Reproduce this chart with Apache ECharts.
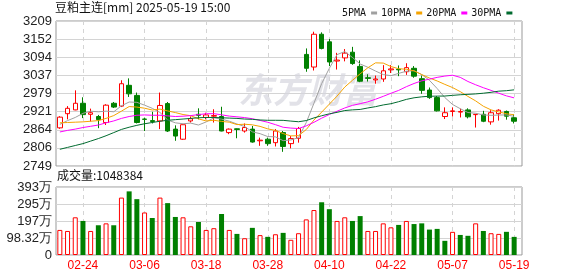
<!DOCTYPE html>
<html>
<head>
<meta charset="utf-8">
<script src="https://cdn.jsdelivr.net/npm/echarts@6/dist/echarts.min.js"></script>
<style>
html, body { margin: 0; padding: 0; background: #fff; }
#chart { width: 578px; height: 276px; }
</style>
</head>
<body>
<div id="chart"></div>
<script>
// trading days shown on the chart
const dates = ['02-19','02-20','02-21','02-24','02-25','02-26','02-27','02-28','03-03','03-04',
  '03-05','03-06','03-07','03-10','03-11','03-12','03-13','03-14','03-17','03-18',
  '03-19','03-20','03-21','03-24','03-25','03-26','03-27','03-28','03-31','04-01',
  '04-02','04-03','04-07','04-08','04-09','04-10','04-11','04-14','04-15','04-16',
  '04-17','04-18','04-21','04-22','04-23','04-24','04-25','04-28','04-29','04-30',
  '05-06','05-07','05-08','05-09','05-12','05-13','05-14','05-15','05-16','05-19'];

const open = [2870,2915,2927,2948,2913,2906,2887,2948,2939,3005,
  2973,2898,2893,2892,2947,2866,2834,2892,2913,2903,
  2907,2906,2855,2867,2860,2866,2829,2834,2823,2855,
  2820,2837,3103,3063,3167,3143,3082,3092,3110,3065,
  3029,3022,3025,3054,3056,3048,3059,3026,2990,2966,
  2906,2922,2920,2927,2912,2913,2889,2915,2922,2902];
const close = [2904,2932,2948,2912,2918,2896,2942,2936,3010,2978,
  2887,2897,2890,2941,2860,2844,2880,2899,2910,2911,
  2909,2860,2866,2865,2871,2825,2831,2820,2860,2811,
  2836,2868,3059,3167,3122,3079,3085,3107,3074,3018,
  3027,3025,3051,3057,3054,3061,3034,2989,2966,2924,
  2918,2924,2922,2905,2913,2891,2918,2926,2907,2891];
const low = [2867,2897,2926,2901,2890,2869,2879,2933,2936,2968,
  2884,2860,2884,2866,2857,2829,2832,2887,2897,2897,
  2887,2859,2850,2837,2855,2823,2813,2813,2811,2794,
  2805,2823,3048,3052,3119,3066,3055,3081,3070,3015,
  3017,3010,3016,3044,3034,3038,3029,2978,2962,2922,
  2898,2906,2903,2900,2871,2888,2880,2893,2896,2884];
const high = [2907,2939,2989,2967,2931,2911,2945,2952,3021,3027,
  2982,2902,2921,2982,2952,2878,2881,2906,2932,2918,
  2929,2937,2868,2868,2884,2876,2839,2839,2866,2860,
  2844,2873,3122,3175,3173,3152,3108,3120,3127,3084,
  3040,3036,3069,3069,3068,3075,3066,3036,2998,2971,
  2935,2935,2931,2932,2914,2924,2926,2929,2925,2913];

// volume, in 万 lots
const vol = [145,139,218,197,139,172,183,172,332,368,
  323,246,214,332,300,220,218,166,191,145,
  155,237,145,122,97,157,115,105,120,128,
  88,126,206,260,305,265,197,218,197,225,
  139,139,183,160,174,197,179,183,147,151,
  82,134,116,111,183,139,126,122,134,104.8384];
// volume bar direction as drawn: 1 = up (red), 0 = down (green)
const volUp = [1,1,1,0,1,0,1,0,1,0,
  0,1,0,1,0,0,1,1,0,1,
  1,0,1,0,1,0,1,0,1,0,
  1,1,1,1,0,0,1,1,0,0,
  1,1,1,1,0,1,0,0,0,0,
  0,1,0,0,1,0,1,1,0,0];

const ma5 = [2881,2893,2903,2916,2922.8,2921,2923,2921,2940,2952,
  2951,2942,2932,2919,2895,2886,2883,2885,2879,2888.8,
  2901.8,2897.8,2891.2,2882.2,2874.2,2857.4,2851.6,2842.4,2841.4,2829.4,
  2831.6,2839,2886.8,2948.2,3010.4,3059,3102.4,3112,3093.4,3072.6,
  3062.2,3050.2,3039,3035.6,3042.8,3049.6,3051.4,3039,3020.8,2994.8,
  2966.2,2944.2,2930.8,2918.6,2916.4,2911,2909.8,2910.6,2911,2906.6];
const ma10 = [2886,2887,2888,2889,2891,2893,2900,2909,2923,2937.6,
  2935.9,2932.4,2926.6,2929.5,2923.7,2918.5,2912.3,2908.6,2898.6,2891.9,
  2894.1,2890.4,2888,2880.4,2881.5,2879.6,2874.7,2866.8,2861.8,2851.8,
  2844.5,2845.3,2864.6,2894.8,2919.9,2945.3,2970.7,2999.4,3020.8,3041.5,
  3060.6,3076.3,3075.5,3064.5,3057.7,3055.9,3050.8,3039,3028.2,3018.8,
  3007.9,2997.8,2984.9,2969.7,2955.6,2938.6,2927,2920.7,2914.8,2911.5];
const ma20 = [2857,2862,2866,2871,2875,2879,2886,2892,2900,2906,
  2910,2911,2910,2910,2908,2906,2907,2909,2912,2914.8,
  2915,2911.4,2907.3,2905,2902.6,2899,2893.5,2887.7,2880.2,2871.9,
  2869.3,2867.9,2876.3,2887.6,2900.7,2912.5,2922.7,2933.1,2941.3,2946.7,
  2952.6,2960.8,2970,2979.7,2988.8,3000.6,3010.8,3019.2,3024.5,3030.2,
  3034.3,3037,3030.2,3017.1,3006.7,2997.3,2988.9,2979.9,2971.5,2965.2];
const ma30 = [2802,2808,2814,2820,2828,2836,2845,2855,2865,2872,
  2878,2883,2887,2891,2894,2896,2898,2900,2902,2903,
  2903,2902,2901,2900,2898,2897,2895,2894,2894,2893.8,
  2891.5,2889.4,2893.1,2901.6,2908.4,2914.5,2919.2,2924.9,2927.1,2928.4,
  2933.1,2937.3,2942.7,2946.6,2953,2960.3,2965.4,2968.4,2970.3,2970.7,
  2971,2973.1,2975,2976.3,2977.7,2979.9,2982.8,2986.4,2987.9,2990.6];

const priceTicks = ['2749','2806','2864','2921','2979','3037','3094','3152','3209'];
const volTicks = ['0','98.32万','197万','295万','393万'];
const maNames = ['5PMA','10PMA','20PMA','30PMA'];
const maData = [ma5, ma10, ma20, ma30];
const maColors = ['#a0a0a0','#f5a300','#ff00ff','#006b2f'];

const UP = '#ff0000';
const DOWN = '#008000';
const GRID_LINE = '#d4d4d4';
const FRAME = '#999';
const MARK = 'rgba(214,214,222,0.7)';
const showDay = (i) => i % 8 === 3;

const chart = echarts.init(document.getElementById('chart'));

const candles = dates.map((d, i) => [open[i], close[i], low[i], high[i]]);
const volBars = vol.map((v, i) => ({
  value: v,
  itemStyle: volUp[i]
    ? { color: '#fff', borderColor: UP, borderWidth: 1 }
    : { color: DOWN, borderWidth: 0 }
}));

const yLabel = { fontSize: 13, color: '#222', margin: 4, fontFamily: 'Liberation Sans' };

chart.setOption({
  animation: false,
  textStyle: { fontFamily: 'Liberation Sans' },
  graphic: [
    // faint watermark
    {
      type: 'text', left: 238, top: 72, z: 1, silent: true,
      style: { text: '东方财富', font: 'italic bold 35px "Noto Sans CJK SC"', fill: MARK }
    },
    {
      type: 'text', left: 55, top: 1,
      style: { text: '豆粕主连[mm] 2025-05-19 15:00', font: '12px "Noto Sans CJK SC"', fill: '#111' }
    },
    {
      type: 'text', left: 57, top: 169,
      style: { text: '成交量:' + Math.round(vol[vol.length - 1] * 10000), font: '12px "Noto Sans CJK SC"', fill: '#111' }
    }
  ],
  legend: {
    data: maNames,
    left: 337,
    top: 3,
    align: 'right',
    icon: 'rect',
    itemWidth: 6,
    itemHeight: 3,
    itemGap: 4,
    selectedMode: false,
    textStyle: { fontSize: 10, color: '#111', fontFamily: 'DejaVu Sans Mono' }
  },
  grid: [
    { left: 56, top: 21, width: 466, height: 145, show: true, borderColor: FRAME, borderWidth: 1 },
    { left: 56, top: 21, width: 462, height: 145 },
    { left: 56, top: 187, width: 466, height: 68, show: true, borderColor: FRAME, borderWidth: 1 },
    { left: 56, top: 187, width: 462, height: 68 }
  ],
  xAxis: [
    { gridIndex: 0, type: 'value', min: 0, max: 1, show: false },
    {
      gridIndex: 1, type: 'category', data: dates, boundaryGap: true,
      axisLine: { show: false }, axisTick: { show: false }, axisLabel: { show: false },
      splitLine: { show: true, interval: showDay, alignWithLabel: true, lineStyle: { color: GRID_LINE, type: [4, 4] } }
    },
    { gridIndex: 2, type: 'value', min: 0, max: 1, show: false },
    {
      gridIndex: 3, type: 'category', data: dates, boundaryGap: true,
      axisLine: { show: false }, axisTick: { show: false },
      axisLabel: { interval: showDay, color: UP, fontSize: 12, margin: 5 },
      splitLine: { show: true, interval: showDay, alignWithLabel: true, lineStyle: { color: GRID_LINE, type: [4, 4] } }
    }
  ],
  yAxis: [
    {
      gridIndex: 0, type: 'value', min: 2749, max: 3209, interval: 57.5,
      axisLine: { show: false }, axisTick: { show: false },
      axisLabel: { ...yLabel, formatter: (v) => priceTicks[Math.round((v - 2749) / 57.5)] },
      splitLine: { lineStyle: { color: GRID_LINE } }
    },
    { gridIndex: 1, type: 'value', min: 2749, max: 3209, show: false },
    {
      gridIndex: 2, type: 'value', min: 0, max: 393.28, interval: 98.32,
      axisLine: { show: false }, axisTick: { show: false },
      axisLabel: { ...yLabel, formatter: (v) => volTicks[Math.round(v / 98.32)] },
      splitLine: { lineStyle: { color: GRID_LINE } }
    },
    { gridIndex: 3, type: 'value', min: 0, max: 393.28, show: false }
  ],
  series: [
    {
      type: 'candlestick',
      xAxisIndex: 1, yAxisIndex: 1,
      data: candles,
      barWidth: 5,
      itemStyle: { color: '#fff', color0: DOWN, borderColor: UP, borderColor0: DOWN, borderWidth: 1 }
    },
    ...maNames.map((name, k) => ({
      name,
      type: 'line',
      xAxisIndex: 1, yAxisIndex: 1,
      data: maData[k],
      color: maColors[k],
      symbol: 'none',
      lineStyle: { width: 1 },
      z: 3
    })),
    {
      type: 'bar',
      xAxisIndex: 3, yAxisIndex: 3,
      data: volBars,
      barWidth: 5
    }
  ]
});
</script>
</body>
</html>
